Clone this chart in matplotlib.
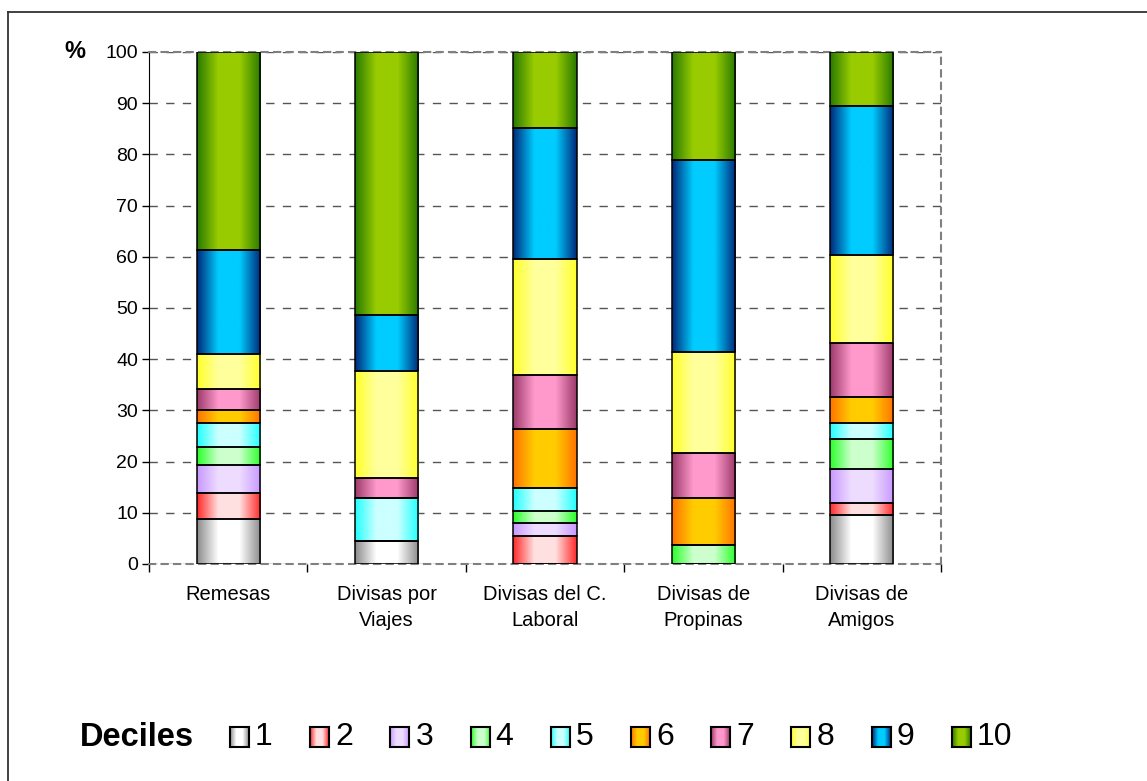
import numpy as np
import matplotlib.pyplot as plt
from matplotlib.colors import LinearSegmentedColormap
from matplotlib.lines import Line2D

plt.rcParams['font.family'] = ['Liberation Sans', 'DejaVu Sans']

# datos (porcentaje por decil)
categorias = ['Remesas', 'Divisas por\nViajes', 'Divisas del C.\nLaboral',
              'Divisas de\nPropinas', 'Divisas de\nAmigos']
deciles = ['1', '2', '3', '4', '5', '6', '7', '8', '9', '10']
d1 = [8.8, 4.5, 0.0, 0.0, 9.6]
d2 = [5.1, 0.0, 5.4, 0.0, 2.3]
d3 = [5.4, 0.0, 2.7, 0.0, 6.7]
d4 = [3.5, 0.0, 2.3, 3.8, 5.8]
d5 = [4.7, 8.3, 4.4, 0.0, 3.1]
d6 = [2.6, 0.0, 11.6, 9.0, 5.1]
d7 = [4.0, 3.9, 10.5, 8.9, 10.5]
d8 = [6.9, 20.9, 22.6, 19.8, 17.2]
d9 = [20.3, 11.0, 25.7, 37.4, 29.2]
d10 = [38.7, 51.4, 14.8, 21.1, 10.5]
series = [d1, d2, d3, d4, d5, d6, d7, d8, d9, d10]

# colores: borde oscuro, centro claro (degradado horizontal)
col_borde = ['#8c8c8c', '#ff2a2a', '#c899ff', '#2bff2b', '#22ffff',
             '#ff7300', '#9c3a6a', '#ffff2a', '#002a7a', '#2a7a00']
col_centro = ['#ffffff', '#ffe0e0', '#eedcff', '#ccffcc', '#ccffff',
              '#ffcc00', '#ff99cc', '#ffff9c', '#00ccff', '#99cc00']

cmaps = [LinearSegmentedColormap.from_list('c%d' % i, [col_borde[i], col_centro[i], col_centro[i], col_borde[i]])
         for i in range(10)]
grad = np.linspace(0, 1, 200).reshape(1, -1)

fig = plt.figure(figsize=(11.47, 7.81), dpi=100)
ax = fig.add_axes([149 / 1147, 1 - 564 / 781, 792 / 1147, 512 / 781])

x = np.arange(len(categorias))
w = 0.4
bottom = np.zeros(len(categorias))
for i, s in enumerate(series):
    s = np.array(s)
    for j in range(len(categorias)):
        if s[j] <= 0:
            continue
        ax.imshow(grad, extent=(x[j] - w / 2, x[j] + w / 2, bottom[j], bottom[j] + s[j]),
                  aspect='auto', cmap=cmaps[i], zorder=2, interpolation='bilinear')
    ax.bar(x, s, w, bottom=bottom, facecolor='none', edgecolor='black', linewidth=1.1, zorder=3)
    bottom += s

ax.set_xlim(-0.5, 4.5)
ax.set_ylim(0, 100)
ax.set_yticks(np.arange(0, 101, 10))
ax.tick_params(axis='y', labelsize=14, length=5, width=1, color='black', pad=3)
ax.set_xticks(x)
ax.set_xticklabels(categorias, fontsize=14.5, linespacing=1.45)
ax.tick_params(axis='x', which='major', length=0, pad=15)
ax.set_xticks(np.arange(-0.5, 5, 1), minor=True)
ax.tick_params(axis='x', which='minor', length=6, width=1, color='black', direction='out')

ax.yaxis.grid(True, linestyle=(0, (6, 6)), color='#555555', linewidth=1)
ax.set_axisbelow(True)
for sp in ['top', 'right', 'bottom']:
    ax.spines[sp].set_linestyle((0, (3, 3)))
    ax.spines[sp].set_color('#808080')
    ax.spines[sp].set_linewidth(1.5)
ax.spines['left'].set_color('black')
ax.spines['left'].set_linewidth(0.8)

fig.text(75 / 1147, 1 - 52 / 781, '%', ha='center', va='center',
         fontsize=17, fontweight='bold')

# leyenda
fig.text(80 / 1147, 1 - 737 / 781, 'Deciles', fontsize=23.5, fontweight='bold',
         ha='left', va='center')
for i in range(10):
    x0 = 230 + 80.2 * i
    lax = fig.add_axes([x0 / 1147, 1 - 747 / 781, 19 / 1147, 20 / 781])
    lax.imshow(grad, aspect='auto', cmap=cmaps[i], interpolation='bilinear')
    lax.set_xticks([])
    lax.set_yticks([])
    for sp in lax.spines.values():
        sp.set_linewidth(1.5)
    fig.text((x0 + 25) / 1147, 1 - 737 / 781, deciles[i], fontsize=23,
             ha='left', va='center')

# marco exterior
fig.add_artist(Line2D([8 / 1147, 8 / 1147], [0, 1 - 12 / 781], color='#333333', linewidth=1.3))
fig.add_artist(Line2D([8 / 1147, 1], [1 - 12 / 781, 1 - 12 / 781], color='#333333', linewidth=1.3))

fig.savefig('out.png', dpi=100)
